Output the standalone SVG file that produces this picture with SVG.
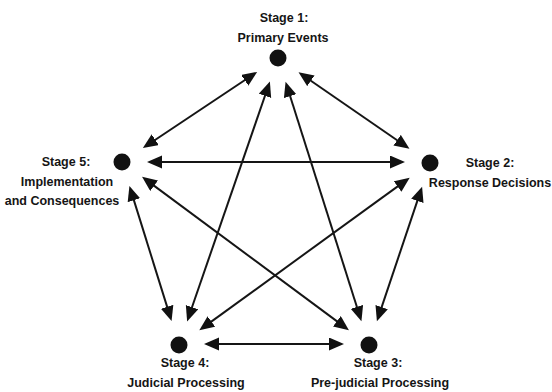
<svg xmlns="http://www.w3.org/2000/svg" width="552" height="392" viewBox="0 0 552 392">
  <style>
    .lbl { font-family: "Liberation Sans", Arial, sans-serif; font-weight: bold; font-size: 12.5px; fill: #151515; text-anchor: middle; }
    .dot { fill: #111; }
    .edge { stroke: #151515; stroke-width: 2; fill: none; marker-start: url(#head); marker-end: url(#head); }
  </style>
  <defs>
    <marker id="head" markerUnits="userSpaceOnUse" markerWidth="16" markerHeight="14" viewBox="0 0 16 14" refX="4" refY="6.5" orient="auto-start-reverse">
      <path d="M0,0 L15,6.5 L0,13 z" fill="#111"/>
    </marker>
  </defs>
  <rect width="552" height="392" fill="#fff"/>

  <!-- two-headed connectors between all five stages -->
  <g id="connectors">
    <line class="edge" x1="307.6" y1="78.5" x2="400.4" y2="142.5"/>
    <line class="edge" x1="288.9" y1="92.3" x2="358.1" y2="310.7"/>
    <line class="edge" x1="266.3" y1="92.0" x2="190.7" y2="311.0"/>
    <line class="edge" x1="248.0" y1="78.0" x2="152.0" y2="142.0"/>
    <line class="edge" x1="418.6" y1="197.1" x2="380.4" y2="310.9"/>
    <line class="edge" x1="400.8" y1="184.1" x2="208.2" y2="323.9"/>
    <line class="edge" x1="394" y1="162" x2="158" y2="162"/>
    <line class="edge" x1="333" y1="344" x2="215" y2="344"/>
    <line class="edge" x1="340.1" y1="323.6" x2="150.9" y2="183.4"/>
    <line class="edge" x1="168.3" y1="310.6" x2="132.7" y2="196.4"/>
  </g>

  <g id="stage1">
    <circle class="dot" cx="278" cy="58" r="8.5"/>
    <text class="lbl" x="284" y="22">Stage 1:</text>
    <text class="lbl" x="283" y="42">Primary Events</text>
  </g>
  <g id="stage2">
    <circle class="dot" cx="430" cy="163" r="8.5"/>
    <text class="lbl" x="490" y="167">Stage 2:</text>
    <text class="lbl" x="490" y="187">Response Decisions</text>
  </g>
  <g id="stage3">
    <circle class="dot" cx="369" cy="345" r="8.5"/>
    <text class="lbl" x="378" y="367">Stage 3:</text>
    <text class="lbl" x="380" y="387">Pre-judicial Processing</text>
  </g>
  <g id="stage4">
    <circle class="dot" cx="179" cy="345" r="8.5"/>
    <text class="lbl" x="185" y="367">Stage 4:</text>
    <text class="lbl" x="186" y="387">Judicial Processing</text>
  </g>
  <g id="stage5">
    <circle class="dot" cx="122" cy="162" r="8.5"/>
    <text class="lbl" x="66" y="166">Stage 5:</text>
    <text class="lbl" x="67" y="186">Implementation</text>
    <text class="lbl" x="62" y="205">and Consequences</text>
  </g>
</svg>
